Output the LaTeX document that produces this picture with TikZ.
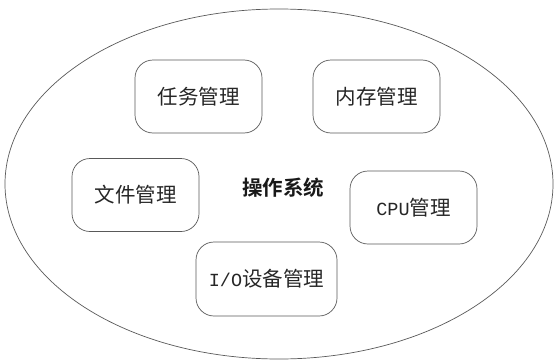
\documentclass[tikz,border=0pt]{standalone}
\usepackage{fontspec}
\usetikzlibrary{shapes.geometric}
\newfontfamily\cjk{Noto Sans CJK SC}[BoldFont={* Bold}]
\newfontfamily\latm{Liberation Mono}
\begin{document}
\begin{tikzpicture}[x=1pt,y=1pt,
  modbox/.style={draw=black!65, line width=0.7pt, rounded corners=18pt,
    minimum width=127pt, minimum height=73pt, inner sep=0pt,
    text=black!85, font=\cjk\fontsize{20.5}{24}\selectfont}]
\useasboundingbox (0,0) rectangle (554,360);
\node[draw=black!65, line width=0.7pt, ellipse, minimum width=548pt, minimum height=350pt, inner sep=0pt] (os) at (279,176) {};
\node[modbox] (task) at (198.5,263.5) {任务管理};
\node[modbox] (mem) at (376.5,263.5) {内存管理};
\node[modbox] (file) at (135.5,165) {文件管理};
\node[modbox] (cpu) at (413.5,152.5) {{\latm\fontsize{18.5}{21}\selectfont CPU}管理};
\node[modbox, minimum width=141pt, minimum height=74pt] (io) at (266.5,81) {{\latm\fontsize{18.5}{21}\selectfont I/O}设备管理};
\node[font=\cjk\bfseries\fontsize{20.5}{24}\selectfont, text=black!90, inner sep=0pt] (title) at (283,172) {操作系统};
\end{tikzpicture}
\end{document}
